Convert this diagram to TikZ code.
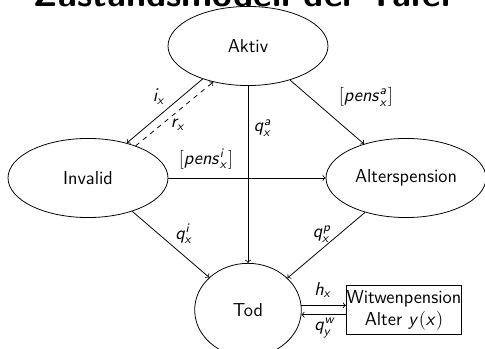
\documentclass[tikz,border=0pt]{standalone}
\usetikzlibrary{shapes.geometric}
\DeclareMathAlphabet{\mathsfit}{OT1}{cmss}{m}{sl}
\newcommand{\si}[1]{\mathsfit{#1}}
\begin{document}
\begin{tikzpicture}[
  x=0.0225cm, y=-0.0225cm,
  state/.style={ellipse, draw, inner sep=0pt, minimum width=3.6cm, minimum height=1.78cm, font=\sffamily\large},
  box/.style={rectangle, draw, align=center, inner sep=0pt, minimum width=2.6cm, minimum height=1.1cm, font=\sffamily\large},
  lbl/.style={font=\sffamily\large, inner sep=1pt},
  every path/.style={line width=0.5pt}
]
  \useasboundingbox (0,0) rectangle (485,349);
  \node[font=\sffamily\bfseries\fontsize{23}{26}\selectfont, anchor=base] (titel) at (242,7) {Zustandsmodell der Tafel};

  \node[state] (aktiv) at (248,46) {Aktiv};
  \node[state] (invalid) at (88,178) {Invalid};
  \node[state] (alter) at (406,178) {Alterspension};
  \node[state, minimum width=2.4cm, minimum height=2.1cm] (tod) at (248,310) {Tod};
  \node[box] (witwe) at (404,310) {Witwenpension\\Alter $\si{y}(\si{x})$};

  \draw[->] (aktiv.216) -- (invalid.42);
  \draw[->, dashed] (invalid.34) -- (aktiv.226);
  \draw[->] (aktiv.south) -- (tod.north);
  \draw[->] (aktiv.-39) -- (alter.141);
  \draw[->] (invalid.east) -- (alter.west);
  \draw[->] (invalid.-37) -- (tod.140);
  \draw[->] (alter.220) -- (tod.39);
  \draw[->] (tod.5) -- (tod.5 -| witwe.west);
  \draw[->] (witwe.west |- tod.-5) -- (tod.-5);

  \node[lbl] (li) at (159,97) {$\si{i}_{\si{x}}$};
  \node[lbl] (lr) at (178,125) {$\si{r}_{\si{x}}$};
  \node[lbl, anchor=west] (lqa) at (252,128) {$\si{q}^{\si{a}}_{\si{x}}$};
  \node[lbl] (lpa) at (366,97) {$[\si{pens}^{\si{a}}_{\si{x}}]$};
  \node[lbl] (lpi) at (206,159) {$[\si{pens}^{\si{i}}_{\si{x}}]$};
  \node[lbl] (lqi) at (184,234) {$\si{q}^{\si{i}}_{\si{x}}$};
  \node[lbl] (lqp) at (322,234) {$\si{q}^{\si{p}}_{\si{x}}$};
  \node[lbl] (lh) at (323,290) {$\si{h}_{\si{x}}$};
  \node[lbl] (lqw) at (325,328) {$\si{q}^{\si{w}}_{\si{y}}$};
\end{tikzpicture}
\end{document}
